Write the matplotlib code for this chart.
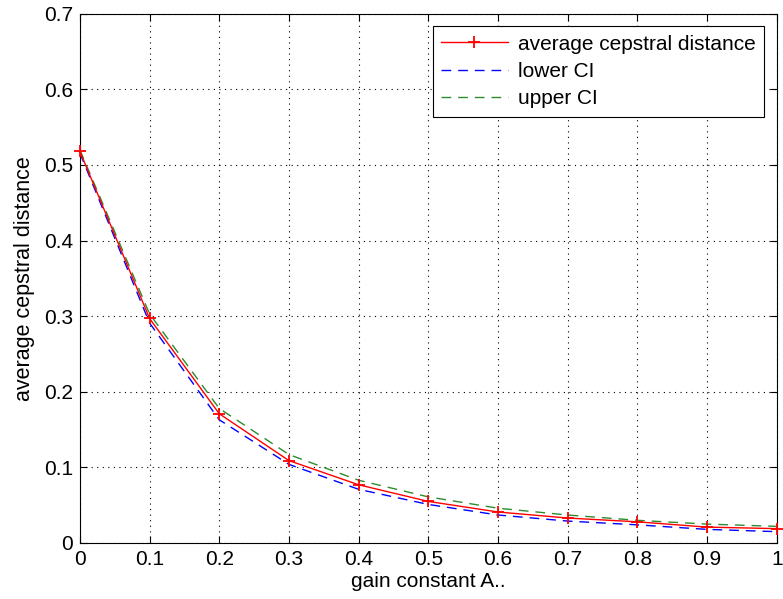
import matplotlib
matplotlib.use("Agg")
import matplotlib.pyplot as plt

plt.rcParams['font.family'] = ['Liberation Sans', 'DejaVu Sans']

gain = [0.0, 0.1, 0.2, 0.3, 0.4, 0.5, 0.6, 0.7, 0.8, 0.9, 1.0]
avg_dist = [0.518, 0.297, 0.171, 0.109, 0.077, 0.055, 0.041, 0.033, 0.028, 0.021, 0.019]
lower_ci = [0.516, 0.291, 0.163, 0.104, 0.071, 0.051, 0.037, 0.029, 0.024, 0.018, 0.015]
upper_ci = [0.520, 0.303, 0.178, 0.117, 0.083, 0.061, 0.046, 0.037, 0.030, 0.025, 0.022]

fig = plt.figure(figsize=(7.83, 5.99), dpi=100)
ax = fig.add_axes([0.102, 0.0935, 0.890, 0.8835])

ax.plot(gain, avg_dist, color='red', lw=1, marker='+', markersize=9, mew=1.3,
        label='average cepstral distance', clip_on=False, zorder=4)
ax.plot(gain, lower_ci, color='blue', lw=1, ls=(0, (7, 5)), label='lower CI')
ax.plot(gain, upper_ci, color='#2e8b2e', lw=1, ls=(0, (7, 5)), label='upper CI')

ax.set_xlim(0, 1)
ax.set_ylim(0, 0.7)
ax.set_xticks([0, 0.1, 0.2, 0.3, 0.4, 0.5, 0.6, 0.7, 0.8, 0.9, 1])
ax.set_xticklabels(['0', '0.1', '0.2', '0.3', '0.4', '0.5', '0.6', '0.7', '0.8', '0.9', '1'])
ax.set_yticks([0, 0.1, 0.2, 0.3, 0.4, 0.5, 0.6, 0.7])
ax.set_yticklabels(['0', '0.1', '0.2', '0.3', '0.4', '0.5', '0.6', '0.7'])
ax.tick_params(direction='in', labelsize=15, top=True, right=True, length=5, pad=5)
ax.grid(True, color='black', ls=(0, (1, 4)), lw=0.8)

ax.set_xlabel('gain constant A..', fontsize=15, labelpad=2)
ax.set_ylabel('average cepstral distance', fontsize=15.5, labelpad=6)

leg = ax.legend(loc='upper right', fontsize=15, frameon=True, fancybox=False,
                edgecolor='black', framealpha=1, handlelength=3.2, labelspacing=0.4,
                handletextpad=0.5, borderaxespad=0.6)
leg.get_frame().set_linewidth(0.8)

fig.savefig('out.png', dpi=100)
